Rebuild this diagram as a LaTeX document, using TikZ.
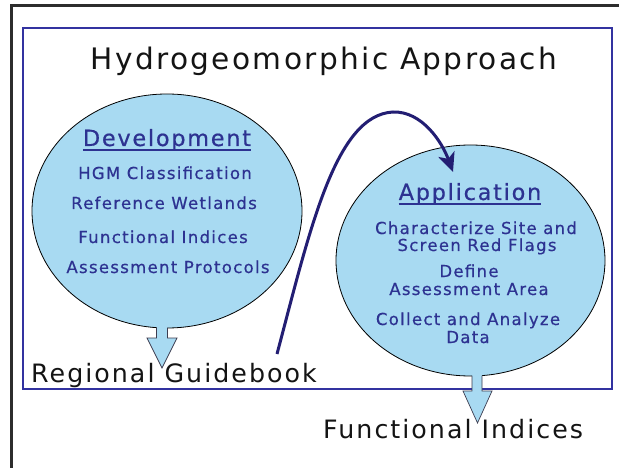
\documentclass[tikz,border=0pt]{standalone}
\usepackage{fontspec}
\setmainfont{DejaVu Sans}[LetterSpace=8]
\newfontfamily\bluefont{DejaVu Sans}[LetterSpace=8,FakeBold=0.6]
\usetikzlibrary{shapes.geometric,arrows.meta}
\definecolor{lightblue}{RGB}{168,218,242}
\definecolor{txtblue}{RGB}{45,50,145}
\definecolor{frameblue}{RGB}{50,50,160}
\definecolor{navy}{RGB}{35,30,115}
\definecolor{outercol}{RGB}{45,45,45}
\definecolor{titlecol}{RGB}{20,20,20}
\definecolor{arrline}{RGB}{60,60,80}
\tikzset{
  bubble/.style={ellipse, draw=black, line width=0.8pt, fill=lightblue, inner sep=0pt},
  head/.style={anchor=base, inner sep=0pt, text=txtblue, font=\bluefont\fontsize{22.3}{24}\selectfont},
  item/.style={anchor=base, inner sep=0pt, text=txtblue, font=\bluefont\fontsize{16.5}{18}\selectfont},
  label/.style={anchor=base west, inner sep=0pt, text=titlecol, font=\fontsize{25.3}{27}\selectfont},
  uline/.style={txtblue, line width=1.1pt},
  blockfill/.style={fill=lightblue},
  blockline/.style={draw=arrline, line width=0.7pt},
  flow/.style={navy, line width=3pt, -{Stealth[length=19pt,width=17pt,inset=5pt]}}
}
\begin{document}
\begin{tikzpicture}[x=1pt,y=-1pt]
\useasboundingbox (0,0) rectangle (619,468);
\fill[white] (0,0) rectangle (619,468);
% outer frame
\draw[outercol, line width=3pt] (11,472) -- (11,6) -- (625,6);
% blue frame
\draw[frameblue, line width=2.2pt] (23,28) rectangle (612,389);
% title
\node[anchor=base, text=titlecol, font=\fontsize{29.6}{31}\selectfont] (title) at (324,70) {Hydrogeomorphic Approach};
% ellipses
\node[bubble, minimum width=270pt, minimum height=234pt] (dev) at (167,211) {};
\node[bubble, minimum width=269pt, minimum height=231pt] (app) at (470.5,260.5) {};
% block arrows
\fill[blockfill] (156.5,326) -- (156.5,338) -- (147,338) -- (162,368) -- (177,338) -- (167.5,338) -- (167.5,326) -- cycle;
\draw[blockline] (156.5,327.6) -- (156.5,338) -- (147,338) -- (162,368) -- (177,338) -- (167.5,338) -- (167.5,327.6);
\fill[blockfill] (472,374) -- (472,391) -- (463,391) -- (477.5,423) -- (492,391) -- (482,391) -- (482,374) -- cycle;
\draw[blockline] (472,375.6) -- (472,391) -- (463,391) -- (477.5,423) -- (492,391) -- (482,391) -- (482,375.6);
% development texts
\node[head] (devh) at (167,146) {Development};
\draw[uline] ([yshift=-4pt]devh.base west) -- ([yshift=-4pt]devh.base east);
\node[item] (d1) at (165,179) {HGM Classification};
\node[item] (d2) at (164,209) {Reference Wetlands};
\node[item] (d3) at (163,243) {Functional Indices};
\node[item] (d4) at (168,273) {Assessment Protocols};
% application texts
\node[head] (apph) at (470,200) {Application};
\draw[uline] ([yshift=-4pt]apph.base west) -- ([yshift=-4pt]apph.base east);
\node[item] (a1) at (476,234) {Characterize Site and};
\node[item] (a2) at (477,251) {Screen Red Flags};
\node[item] (a3) at (469,277) {Define};
\node[item] (a4) at (469,295) {Assessment Area};
\node[item] (a5) at (468,325) {Collect and Analyze};
\node[item] (a6) at (468,343) {Data};
% bottom labels
\node[label] (rg) at (31,382) {Regional Guidebook};
\node[label] (fi) at (323,438) {Functional Indices};
% curved arrow
\coordinate (cs) at (277,354);
\coordinate (ce) at (453,172);
\draw[flow] (cs) .. controls (310,230) and (335,115) .. (393,112) .. controls (422,111) and (442,142) .. (ce);
\end{tikzpicture}
\end{document}
